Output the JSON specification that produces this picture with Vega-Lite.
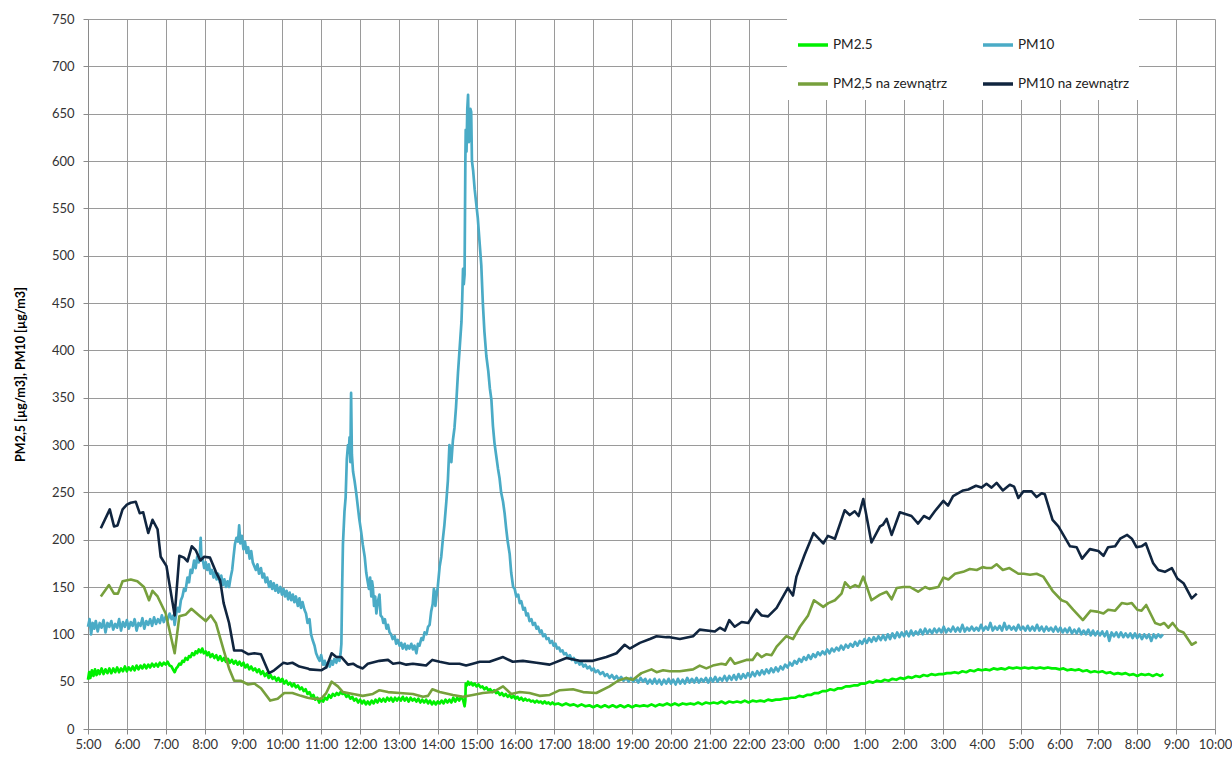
{
"$schema": "https://vega.github.io/schema/vega-lite/v6.json",
"autosize": {"type": "none"},
"width": 1127,
"height": 710,
"padding": {"left": 88, "top": 19, "right": 17, "bottom": 28},
"background": "white",
"config": {"view": {"stroke": null}, "axis": {"labelFont": "Lato", "labelFontSize": 13, "labelColor": "#333333", "gridColor": "#9a9a9a", "gridWidth": 1, "domainColor": "#8a8a8a", "tickColor": "#8a8a8a"}},
"datasets": {
"pm25": [
{"t":5.00,"v":52},{"t":5.03,"v":60},{"t":5.06,"v":54},{"t":5.10,"v":62},{"t":5.14,"v":56},{"t":5.18,"v":63},{"t":5.22,"v":57},{"t":5.26,"v":62},{"t":5.30,"v":58},{"t":5.35,"v":64},{"t":5.40,"v":58},{"t":5.45,"v":63},{"t":5.50,"v":59},{"t":5.55,"v":64},{"t":5.60,"v":59},{"t":5.65,"v":64},{"t":5.70,"v":60},{"t":5.75,"v":65},{"t":5.80,"v":60},{"t":5.85,"v":64},{"t":5.90,"v":61},{"t":5.95,"v":66},{"t":6.00,"v":61},{"t":6.05,"v":65},{"t":6.10,"v":62},{"t":6.15,"v":66},{"t":6.20,"v":62},{"t":6.25,"v":67},{"t":6.30,"v":63},{"t":6.35,"v":67},{"t":6.40,"v":64},{"t":6.45,"v":68},{"t":6.50,"v":64},{"t":6.55,"v":68},{"t":6.60,"v":65},{"t":6.65,"v":69},{"t":6.70,"v":66},{"t":6.75,"v":69},{"t":6.80,"v":66},{"t":6.85,"v":70},{"t":6.90,"v":67},{"t":6.95,"v":70},{"t":7.00,"v":68},{"t":7.05,"v":71},{"t":7.10,"v":67},{"t":7.15,"v":66},{"t":7.20,"v":62},{"t":7.23,"v":60},{"t":7.27,"v":64},{"t":7.31,"v":66},{"t":7.35,"v":69},{"t":7.39,"v":68},{"t":7.43,"v":72},{"t":7.47,"v":71},{"t":7.51,"v":75},{"t":7.56,"v":73},{"t":7.60,"v":77},{"t":7.64,"v":76},{"t":7.68,"v":80},{"t":7.73,"v":78},{"t":7.77,"v":82},{"t":7.81,"v":80},{"t":7.85,"v":84},{"t":7.90,"v":81},{"t":7.94,"v":85},{"t":7.98,"v":80},{"t":8.03,"v":82},{"t":8.07,"v":78},{"t":8.11,"v":81},{"t":8.15,"v":76},{"t":8.20,"v":79},{"t":8.25,"v":75},{"t":8.30,"v":78},{"t":8.35,"v":73},{"t":8.40,"v":77},{"t":8.45,"v":72},{"t":8.50,"v":75},{"t":8.55,"v":71},{"t":8.60,"v":74},{"t":8.65,"v":70},{"t":8.70,"v":73},{"t":8.75,"v":69},{"t":8.80,"v":72},{"t":8.85,"v":68},{"t":8.90,"v":71},{"t":8.95,"v":67},{"t":9.00,"v":70},{"t":9.05,"v":65},{"t":9.10,"v":68},{"t":9.15,"v":63},{"t":9.20,"v":66},{"t":9.25,"v":62},{"t":9.30,"v":64},{"t":9.35,"v":60},{"t":9.40,"v":63},{"t":9.45,"v":58},{"t":9.50,"v":61},{"t":9.55,"v":56},{"t":9.60,"v":59},{"t":9.65,"v":54},{"t":9.70,"v":57},{"t":9.75,"v":53},{"t":9.80,"v":55},{"t":9.85,"v":51},{"t":9.90,"v":54},{"t":9.95,"v":50},{"t":10.00,"v":53},{"t":10.05,"v":48},{"t":10.10,"v":51},{"t":10.15,"v":47},{"t":10.20,"v":49},{"t":10.25,"v":45},{"t":10.30,"v":48},{"t":10.35,"v":44},{"t":10.40,"v":46},{"t":10.45,"v":42},{"t":10.50,"v":44},{"t":10.55,"v":40},{"t":10.60,"v":42},{"t":10.65,"v":37},{"t":10.70,"v":39},{"t":10.75,"v":34},{"t":10.80,"v":36},{"t":10.85,"v":31},{"t":10.90,"v":33},{"t":10.95,"v":28},{"t":11.00,"v":32},{"t":11.05,"v":29},{"t":11.10,"v":33},{"t":11.15,"v":31},{"t":11.20,"v":36},{"t":11.25,"v":33},{"t":11.30,"v":37},{"t":11.35,"v":35},{"t":11.40,"v":38},{"t":11.45,"v":36},{"t":11.50,"v":39},{"t":11.55,"v":37},{"t":11.60,"v":38},{"t":11.65,"v":34},{"t":11.70,"v":36},{"t":11.75,"v":32},{"t":11.80,"v":34},{"t":11.85,"v":30},{"t":11.90,"v":32},{"t":11.95,"v":28},{"t":12.00,"v":31},{"t":12.05,"v":27},{"t":12.10,"v":30},{"t":12.15,"v":26},{"t":12.20,"v":29},{"t":12.25,"v":26},{"t":12.30,"v":30},{"t":12.35,"v":27},{"t":12.40,"v":31},{"t":12.45,"v":28},{"t":12.50,"v":32},{"t":12.55,"v":29},{"t":12.60,"v":32},{"t":12.65,"v":29},{"t":12.70,"v":33},{"t":12.75,"v":30},{"t":12.80,"v":33},{"t":12.85,"v":29},{"t":12.90,"v":33},{"t":12.95,"v":30},{"t":13.00,"v":33},{"t":13.05,"v":30},{"t":13.10,"v":34},{"t":13.15,"v":30},{"t":13.20,"v":33},{"t":13.25,"v":29},{"t":13.30,"v":33},{"t":13.35,"v":30},{"t":13.40,"v":32},{"t":13.45,"v":29},{"t":13.50,"v":32},{"t":13.55,"v":28},{"t":13.60,"v":31},{"t":13.65,"v":28},{"t":13.70,"v":31},{"t":13.75,"v":27},{"t":13.80,"v":30},{"t":13.85,"v":26},{"t":13.90,"v":29},{"t":13.95,"v":26},{"t":14.00,"v":29},{"t":14.05,"v":27},{"t":14.10,"v":30},{"t":14.15,"v":27},{"t":14.20,"v":31},{"t":14.25,"v":28},{"t":14.30,"v":31},{"t":14.35,"v":28},{"t":14.40,"v":33},{"t":14.45,"v":29},{"t":14.50,"v":33},{"t":14.55,"v":30},{"t":14.60,"v":34},{"t":14.65,"v":31},{"t":14.69,"v":24},{"t":14.71,"v":30},{"t":14.72,"v":48},{"t":14.75,"v":46},{"t":14.78,"v":50},{"t":14.82,"v":47},{"t":14.86,"v":49},{"t":14.90,"v":46},{"t":14.95,"v":48},{"t":15.00,"v":45},{"t":15.05,"v":47},{"t":15.10,"v":44},{"t":15.15,"v":45},{"t":15.20,"v":42},{"t":15.25,"v":44},{"t":15.30,"v":41},{"t":15.35,"v":42},{"t":15.40,"v":39},{"t":15.45,"v":41},{"t":15.50,"v":38},{"t":15.55,"v":39},{"t":15.60,"v":36},{"t":15.65,"v":38},{"t":15.70,"v":35},{"t":15.75,"v":37},{"t":15.80,"v":34},{"t":15.85,"v":36},{"t":15.90,"v":33},{"t":15.95,"v":35},{"t":16.00,"v":32},{"t":16.05,"v":34},{"t":16.10,"v":31},{"t":16.15,"v":33},{"t":16.20,"v":30},{"t":16.25,"v":32},{"t":16.30,"v":30},{"t":16.35,"v":31},{"t":16.40,"v":29},{"t":16.45,"v":30},{"t":16.50,"v":28},{"t":16.55,"v":30},{"t":16.60,"v":28},{"t":16.65,"v":29},{"t":16.70,"v":27},{"t":16.75,"v":29},{"t":16.80,"v":27},{"t":16.85,"v":28},{"t":16.90,"v":26},{"t":16.95,"v":28},{"t":17.00,"v":26},{"t":17.10,"v":27},{"t":17.20,"v":25},{"t":17.30,"v":27},{"t":17.40,"v":25},{"t":17.50,"v":26},{"t":17.60,"v":24},{"t":17.70,"v":26},{"t":17.80,"v":24},{"t":17.90,"v":25},{"t":18.00,"v":23},{"t":18.10,"v":25},{"t":18.20,"v":23},{"t":18.30,"v":25},{"t":18.40,"v":23},{"t":18.50,"v":25},{"t":18.60,"v":23},{"t":18.70,"v":25},{"t":18.80,"v":23},{"t":18.90,"v":25},{"t":19.00,"v":23},{"t":19.10,"v":25},{"t":19.20,"v":24},{"t":19.30,"v":25},{"t":19.40,"v":24},{"t":19.50,"v":26},{"t":19.60,"v":24},{"t":19.70,"v":26},{"t":19.80,"v":25},{"t":19.90,"v":27},{"t":20.00,"v":25},{"t":20.10,"v":27},{"t":20.20,"v":25},{"t":20.30,"v":27},{"t":20.40,"v":26},{"t":20.50,"v":27},{"t":20.60,"v":26},{"t":20.70,"v":28},{"t":20.80,"v":26},{"t":20.90,"v":28},{"t":21.00,"v":27},{"t":21.10,"v":28},{"t":21.20,"v":27},{"t":21.30,"v":29},{"t":21.40,"v":27},{"t":21.50,"v":29},{"t":21.60,"v":28},{"t":21.70,"v":29},{"t":21.80,"v":28},{"t":21.90,"v":30},{"t":22.00,"v":28},{"t":22.10,"v":30},{"t":22.20,"v":29},{"t":22.30,"v":30},{"t":22.40,"v":29},{"t":22.50,"v":31},{"t":22.60,"v":30},{"t":22.70,"v":31},{"t":22.80,"v":31},{"t":22.90,"v":32},{"t":23.00,"v":32},{"t":23.10,"v":33},{"t":23.20,"v":33},{"t":23.30,"v":35},{"t":23.40,"v":34},{"t":23.50,"v":36},{"t":23.60,"v":36},{"t":23.70,"v":38},{"t":23.80,"v":38},{"t":23.90,"v":40},{"t":24.00,"v":40},{"t":24.10,"v":42},{"t":24.20,"v":41},{"t":24.30,"v":43},{"t":24.40,"v":43},{"t":24.50,"v":45},{"t":24.60,"v":45},{"t":24.70,"v":46},{"t":24.80,"v":46},{"t":24.90,"v":48},{"t":25.00,"v":48},{"t":25.10,"v":50},{"t":25.20,"v":49},{"t":25.30,"v":51},{"t":25.40,"v":50},{"t":25.50,"v":52},{"t":25.60,"v":51},{"t":25.70,"v":53},{"t":25.80,"v":52},{"t":25.90,"v":54},{"t":26.00,"v":53},{"t":26.10,"v":55},{"t":26.20,"v":54},{"t":26.30,"v":56},{"t":26.40,"v":55},{"t":26.50,"v":57},{"t":26.60,"v":56},{"t":26.70,"v":58},{"t":26.80,"v":57},{"t":26.90,"v":58},{"t":27.00,"v":58},{"t":27.10,"v":59},{"t":27.20,"v":59},{"t":27.30,"v":60},{"t":27.40,"v":59},{"t":27.50,"v":61},{"t":27.60,"v":60},{"t":27.70,"v":62},{"t":27.80,"v":61},{"t":27.90,"v":63},{"t":28.00,"v":62},{"t":28.10,"v":63},{"t":28.20,"v":62},{"t":28.30,"v":64},{"t":28.40,"v":63},{"t":28.50,"v":64},{"t":28.60,"v":63},{"t":28.70,"v":65},{"t":28.80,"v":64},{"t":28.90,"v":65},{"t":29.00,"v":64},{"t":29.10,"v":65},{"t":29.20,"v":64},{"t":29.30,"v":65},{"t":29.40,"v":64},{"t":29.50,"v":65},{"t":29.60,"v":64},{"t":29.70,"v":65},{"t":29.80,"v":64},{"t":29.90,"v":64},{"t":30.00,"v":63},{"t":30.10,"v":64},{"t":30.20,"v":62},{"t":30.30,"v":63},{"t":30.40,"v":62},{"t":30.50,"v":63},{"t":30.60,"v":61},{"t":30.70,"v":62},{"t":30.80,"v":60},{"t":30.90,"v":61},{"t":31.00,"v":60},{"t":31.10,"v":61},{"t":31.20,"v":59},{"t":31.30,"v":60},{"t":31.40,"v":58},{"t":31.50,"v":59},{"t":31.60,"v":58},{"t":31.70,"v":59},{"t":31.80,"v":57},{"t":31.90,"v":58},{"t":32.00,"v":56},{"t":32.10,"v":58},{"t":32.20,"v":57},{"t":32.30,"v":58},{"t":32.40,"v":56},{"t":32.50,"v":58},{"t":32.60,"v":56},{"t":32.67,"v":58}
],
"pm10": [
{"t":5.00,"v":108},{"t":5.04,"v":116},{"t":5.08,"v":100},{"t":5.12,"v":112},{"t":5.16,"v":106},{"t":5.20,"v":114},{"t":5.25,"v":103},{"t":5.30,"v":112},{"t":5.35,"v":107},{"t":5.40,"v":115},{"t":5.45,"v":102},{"t":5.50,"v":112},{"t":5.55,"v":108},{"t":5.60,"v":114},{"t":5.65,"v":105},{"t":5.70,"v":111},{"t":5.75,"v":107},{"t":5.80,"v":116},{"t":5.85,"v":104},{"t":5.90,"v":113},{"t":5.95,"v":108},{"t":6.00,"v":115},{"t":6.05,"v":106},{"t":6.10,"v":113},{"t":6.15,"v":109},{"t":6.20,"v":116},{"t":6.25,"v":104},{"t":6.30,"v":112},{"t":6.35,"v":109},{"t":6.40,"v":117},{"t":6.45,"v":106},{"t":6.50,"v":114},{"t":6.55,"v":110},{"t":6.60,"v":116},{"t":6.65,"v":109},{"t":6.70,"v":118},{"t":6.75,"v":111},{"t":6.80,"v":116},{"t":6.85,"v":112},{"t":6.90,"v":120},{"t":6.95,"v":113},{"t":7.00,"v":119},{"t":7.05,"v":115},{"t":7.10,"v":122},{"t":7.15,"v":116},{"t":7.20,"v":120},{"t":7.23,"v":110},{"t":7.27,"v":122},{"t":7.31,"v":128},{"t":7.35,"v":124},{"t":7.39,"v":136},{"t":7.43,"v":140},{"t":7.47,"v":148},{"t":7.51,"v":146},{"t":7.56,"v":160},{"t":7.60,"v":155},{"t":7.64,"v":168},{"t":7.68,"v":165},{"t":7.73,"v":178},{"t":7.77,"v":170},{"t":7.81,"v":182},{"t":7.85,"v":176},{"t":7.88,"v":186},{"t":7.90,"v":202},{"t":7.92,"v":178},{"t":7.95,"v":180},{"t":7.99,"v":170},{"t":8.03,"v":176},{"t":8.07,"v":168},{"t":8.11,"v":174},{"t":8.15,"v":164},{"t":8.19,"v":168},{"t":8.23,"v":160},{"t":8.27,"v":166},{"t":8.31,"v":158},{"t":8.35,"v":164},{"t":8.39,"v":155},{"t":8.43,"v":162},{"t":8.47,"v":152},{"t":8.51,"v":158},{"t":8.55,"v":150},{"t":8.59,"v":156},{"t":8.63,"v":150},{"t":8.67,"v":160},{"t":8.71,"v":168},{"t":8.74,"v":180},{"t":8.78,"v":195},{"t":8.82,"v":202},{"t":8.86,"v":198},{"t":8.89,"v":215},{"t":8.92,"v":196},{"t":8.96,"v":204},{"t":9.00,"v":190},{"t":9.04,"v":198},{"t":9.08,"v":186},{"t":9.12,"v":192},{"t":9.16,"v":180},{"t":9.20,"v":188},{"t":9.24,"v":176},{"t":9.28,"v":172},{"t":9.32,"v":168},{"t":9.36,"v":174},{"t":9.40,"v":164},{"t":9.45,"v":170},{"t":9.49,"v":160},{"t":9.53,"v":164},{"t":9.57,"v":155},{"t":9.61,"v":160},{"t":9.66,"v":150},{"t":9.70,"v":156},{"t":9.74,"v":148},{"t":9.78,"v":154},{"t":9.82,"v":146},{"t":9.86,"v":152},{"t":9.90,"v":144},{"t":9.95,"v":150},{"t":9.99,"v":142},{"t":10.03,"v":148},{"t":10.07,"v":140},{"t":10.11,"v":146},{"t":10.15,"v":137},{"t":10.19,"v":144},{"t":10.23,"v":136},{"t":10.27,"v":142},{"t":10.31,"v":134},{"t":10.35,"v":140},{"t":10.40,"v":130},{"t":10.44,"v":138},{"t":10.48,"v":128},{"t":10.52,"v":134},{"t":10.57,"v":126},{"t":10.61,"v":122},{"t":10.65,"v":112},{"t":10.70,"v":116},{"t":10.74,"v":100},{"t":10.78,"v":94},{"t":10.83,"v":88},{"t":10.87,"v":80},{"t":10.91,"v":76},{"t":10.96,"v":72},{"t":11.00,"v":78},{"t":11.05,"v":68},{"t":11.09,"v":72},{"t":11.13,"v":65},{"t":11.17,"v":70},{"t":11.22,"v":66},{"t":11.26,"v":72},{"t":11.30,"v":68},{"t":11.34,"v":74},{"t":11.39,"v":70},{"t":11.43,"v":76},{"t":11.47,"v":72},{"t":11.50,"v":80},{"t":11.52,"v":90},{"t":11.54,"v":150},{"t":11.56,"v":195},{"t":11.60,"v":230},{"t":11.63,"v":245},{"t":11.66,"v":285},{"t":11.69,"v":300},{"t":11.71,"v":292},{"t":11.73,"v":308},{"t":11.75,"v":282},{"t":11.77,"v":355},{"t":11.79,"v":290},{"t":11.82,"v":272},{"t":11.86,"v":262},{"t":11.90,"v":250},{"t":11.94,"v":236},{"t":11.98,"v":222},{"t":12.03,"v":208},{"t":12.07,"v":195},{"t":12.12,"v":182},{"t":12.16,"v":165},{"t":12.20,"v":155},{"t":12.23,"v":148},{"t":12.26,"v":160},{"t":12.29,"v":140},{"t":12.31,"v":156},{"t":12.33,"v":150},{"t":12.36,"v":130},{"t":12.39,"v":140},{"t":12.42,"v":122},{"t":12.46,"v":135},{"t":12.50,"v":142},{"t":12.53,"v":120},{"t":12.57,"v":118},{"t":12.60,"v":112},{"t":12.64,"v":116},{"t":12.68,"v":106},{"t":12.72,"v":110},{"t":12.76,"v":102},{"t":12.80,"v":100},{"t":12.84,"v":95},{"t":12.89,"v":98},{"t":12.93,"v":90},{"t":12.97,"v":94},{"t":13.02,"v":88},{"t":13.06,"v":91},{"t":13.10,"v":85},{"t":13.15,"v":90},{"t":13.19,"v":84},{"t":13.23,"v":88},{"t":13.27,"v":85},{"t":13.32,"v":90},{"t":13.36,"v":84},{"t":13.40,"v":88},{"t":13.45,"v":80},{"t":13.49,"v":90},{"t":13.53,"v":88},{"t":13.58,"v":96},{"t":13.62,"v":94},{"t":13.66,"v":102},{"t":13.71,"v":100},{"t":13.75,"v":108},{"t":13.79,"v":110},{"t":13.83,"v":124},{"t":13.87,"v":132},{"t":13.90,"v":148},{"t":13.92,"v":145},{"t":13.94,"v":130},{"t":13.96,"v":138},{"t":14.00,"v":150},{"t":14.05,"v":172},{"t":14.09,"v":182},{"t":14.13,"v":200},{"t":14.17,"v":215},{"t":14.22,"v":240},{"t":14.26,"v":262},{"t":14.30,"v":300},{"t":14.33,"v":288},{"t":14.35,"v":282},{"t":14.39,"v":305},{"t":14.43,"v":318},{"t":14.47,"v":340},{"t":14.52,"v":376},{"t":14.56,"v":400},{"t":14.61,"v":430},{"t":14.63,"v":455},{"t":14.65,"v":486},{"t":14.67,"v":470},{"t":14.69,"v":480},{"t":14.71,"v":600},{"t":14.72,"v":633},{"t":14.74,"v":610},{"t":14.76,"v":655},{"t":14.78,"v":670},{"t":14.80,"v":620},{"t":14.82,"v":628},{"t":14.84,"v":655},{"t":14.86,"v":652},{"t":14.88,"v":600},{"t":14.91,"v":590},{"t":14.95,"v":570},{"t":14.99,"v":555},{"t":15.03,"v":540},{"t":15.08,"v":512},{"t":15.12,"v":490},{"t":15.16,"v":450},{"t":15.20,"v":420},{"t":15.25,"v":394},{"t":15.30,"v":378},{"t":15.34,"v":360},{"t":15.38,"v":348},{"t":15.42,"v":320},{"t":15.46,"v":302},{"t":15.50,"v":290},{"t":15.55,"v":275},{"t":15.59,"v":265},{"t":15.63,"v":250},{"t":15.68,"v":240},{"t":15.72,"v":228},{"t":15.76,"v":212},{"t":15.80,"v":198},{"t":15.85,"v":185},{"t":15.89,"v":165},{"t":15.94,"v":150},{"t":15.98,"v":148},{"t":16.02,"v":140},{"t":16.07,"v":142},{"t":16.11,"v":133},{"t":16.15,"v":135},{"t":16.20,"v":126},{"t":16.24,"v":128},{"t":16.28,"v":120},{"t":16.32,"v":122},{"t":16.36,"v":114},{"t":16.41,"v":116},{"t":16.45,"v":110},{"t":16.50,"v":112},{"t":16.54,"v":106},{"t":16.58,"v":108},{"t":16.63,"v":102},{"t":16.67,"v":104},{"t":16.71,"v":98},{"t":16.76,"v":100},{"t":16.80,"v":95},{"t":16.85,"v":96},{"t":16.89,"v":91},{"t":16.94,"v":93},{"t":16.98,"v":88},{"t":17.03,"v":90},{"t":17.07,"v":85},{"t":17.12,"v":86},{"t":17.16,"v":82},{"t":17.21,"v":83},{"t":17.25,"v":79},{"t":17.30,"v":80},{"t":17.35,"v":76},{"t":17.40,"v":78},{"t":17.45,"v":73},{"t":17.50,"v":75},{"t":17.55,"v":70},{"t":17.60,"v":72},{"t":17.65,"v":68},{"t":17.70,"v":70},{"t":17.75,"v":66},{"t":17.80,"v":68},{"t":17.85,"v":64},{"t":17.91,"v":66},{"t":17.96,"v":62},{"t":18.01,"v":64},{"t":18.06,"v":60},{"t":18.12,"v":62},{"t":18.18,"v":58},{"t":18.25,"v":60},{"t":18.30,"v":56},{"t":18.36,"v":58},{"t":18.42,"v":54},{"t":18.48,"v":57},{"t":18.54,"v":53},{"t":18.60,"v":56},{"t":18.66,"v":52},{"t":18.72,"v":55},{"t":18.78,"v":51},{"t":18.85,"v":54},{"t":18.91,"v":50},{"t":18.97,"v":54},{"t":19.03,"v":50},{"t":19.10,"v":53},{"t":19.16,"v":49},{"t":19.22,"v":54},{"t":19.28,"v":50},{"t":19.34,"v":53},{"t":19.40,"v":48},{"t":19.46,"v":52},{"t":19.52,"v":48},{"t":19.58,"v":53},{"t":19.64,"v":48},{"t":19.70,"v":52},{"t":19.76,"v":47},{"t":19.82,"v":52},{"t":19.88,"v":48},{"t":19.94,"v":53},{"t":20.00,"v":48},{"t":20.06,"v":52},{"t":20.12,"v":47},{"t":20.18,"v":53},{"t":20.24,"v":48},{"t":20.30,"v":52},{"t":20.36,"v":48},{"t":20.42,"v":54},{"t":20.48,"v":49},{"t":20.54,"v":53},{"t":20.60,"v":49},{"t":20.66,"v":54},{"t":20.72,"v":49},{"t":20.78,"v":53},{"t":20.84,"v":50},{"t":20.90,"v":54},{"t":20.96,"v":49},{"t":21.02,"v":54},{"t":21.08,"v":50},{"t":21.14,"v":55},{"t":21.20,"v":50},{"t":21.26,"v":54},{"t":21.32,"v":51},{"t":21.38,"v":56},{"t":21.44,"v":51},{"t":21.50,"v":56},{"t":21.56,"v":52},{"t":21.62,"v":57},{"t":21.68,"v":52},{"t":21.74,"v":58},{"t":21.80,"v":53},{"t":21.86,"v":58},{"t":21.92,"v":54},{"t":21.98,"v":59},{"t":22.04,"v":55},{"t":22.10,"v":60},{"t":22.16,"v":56},{"t":22.22,"v":61},{"t":22.28,"v":57},{"t":22.34,"v":62},{"t":22.40,"v":58},{"t":22.46,"v":63},{"t":22.52,"v":59},{"t":22.58,"v":64},{"t":22.64,"v":60},{"t":22.70,"v":65},{"t":22.76,"v":61},{"t":22.82,"v":66},{"t":22.88,"v":63},{"t":22.94,"v":68},{"t":23.00,"v":65},{"t":23.06,"v":70},{"t":23.12,"v":67},{"t":23.18,"v":72},{"t":23.24,"v":69},{"t":23.30,"v":74},{"t":23.36,"v":71},{"t":23.42,"v":76},{"t":23.48,"v":73},{"t":23.54,"v":78},{"t":23.60,"v":74},{"t":23.66,"v":79},{"t":23.72,"v":76},{"t":23.78,"v":81},{"t":23.84,"v":78},{"t":23.90,"v":82},{"t":23.96,"v":79},{"t":24.02,"v":84},{"t":24.08,"v":80},{"t":24.14,"v":85},{"t":24.20,"v":82},{"t":24.26,"v":86},{"t":24.32,"v":83},{"t":24.38,"v":88},{"t":24.44,"v":84},{"t":24.50,"v":89},{"t":24.56,"v":86},{"t":24.62,"v":90},{"t":24.68,"v":87},{"t":24.74,"v":92},{"t":24.80,"v":88},{"t":24.86,"v":93},{"t":24.92,"v":90},{"t":24.98,"v":95},{"t":25.04,"v":91},{"t":25.10,"v":96},{"t":25.16,"v":92},{"t":25.22,"v":97},{"t":25.28,"v":93},{"t":25.34,"v":98},{"t":25.40,"v":94},{"t":25.46,"v":99},{"t":25.52,"v":94},{"t":25.58,"v":100},{"t":25.64,"v":95},{"t":25.70,"v":101},{"t":25.76,"v":96},{"t":25.82,"v":102},{"t":25.88,"v":97},{"t":25.94,"v":102},{"t":26.00,"v":98},{"t":26.06,"v":103},{"t":26.12,"v":98},{"t":26.18,"v":104},{"t":26.24,"v":99},{"t":26.30,"v":103},{"t":26.36,"v":100},{"t":26.42,"v":105},{"t":26.48,"v":100},{"t":26.54,"v":106},{"t":26.60,"v":101},{"t":26.66,"v":105},{"t":26.72,"v":101},{"t":26.78,"v":106},{"t":26.84,"v":102},{"t":26.90,"v":106},{"t":26.96,"v":102},{"t":27.02,"v":108},{"t":27.08,"v":102},{"t":27.14,"v":106},{"t":27.20,"v":103},{"t":27.26,"v":108},{"t":27.32,"v":103},{"t":27.38,"v":107},{"t":27.44,"v":103},{"t":27.50,"v":110},{"t":27.56,"v":103},{"t":27.62,"v":107},{"t":27.68,"v":104},{"t":27.74,"v":108},{"t":27.80,"v":104},{"t":27.86,"v":107},{"t":27.92,"v":104},{"t":27.98,"v":110},{"t":28.04,"v":104},{"t":28.10,"v":108},{"t":28.16,"v":105},{"t":28.22,"v":112},{"t":28.28,"v":104},{"t":28.34,"v":108},{"t":28.40,"v":105},{"t":28.46,"v":109},{"t":28.52,"v":104},{"t":28.58,"v":112},{"t":28.64,"v":105},{"t":28.70,"v":109},{"t":28.76,"v":105},{"t":28.82,"v":108},{"t":28.88,"v":104},{"t":28.94,"v":110},{"t":29.00,"v":105},{"t":29.06,"v":108},{"t":29.12,"v":104},{"t":29.18,"v":109},{"t":29.24,"v":104},{"t":29.30,"v":108},{"t":29.36,"v":104},{"t":29.42,"v":110},{"t":29.48,"v":104},{"t":29.54,"v":108},{"t":29.60,"v":103},{"t":29.66,"v":108},{"t":29.72,"v":104},{"t":29.78,"v":107},{"t":29.84,"v":103},{"t":29.90,"v":108},{"t":29.96,"v":103},{"t":30.02,"v":107},{"t":30.08,"v":102},{"t":30.14,"v":106},{"t":30.20,"v":102},{"t":30.26,"v":107},{"t":30.32,"v":101},{"t":30.38,"v":105},{"t":30.44,"v":101},{"t":30.50,"v":106},{"t":30.56,"v":100},{"t":30.62,"v":104},{"t":30.68,"v":100},{"t":30.74,"v":105},{"t":30.80,"v":99},{"t":30.86,"v":104},{"t":30.92,"v":99},{"t":30.98,"v":103},{"t":31.04,"v":99},{"t":31.10,"v":103},{"t":31.16,"v":98},{"t":31.22,"v":103},{"t":31.28,"v":93},{"t":31.34,"v":102},{"t":31.40,"v":98},{"t":31.46,"v":102},{"t":31.52,"v":97},{"t":31.58,"v":102},{"t":31.64,"v":97},{"t":31.70,"v":101},{"t":31.76,"v":97},{"t":31.82,"v":101},{"t":31.88,"v":96},{"t":31.94,"v":101},{"t":32.00,"v":96},{"t":32.06,"v":100},{"t":32.12,"v":95},{"t":32.18,"v":100},{"t":32.24,"v":96},{"t":32.30,"v":100},{"t":32.36,"v":93},{"t":32.42,"v":100},{"t":32.48,"v":96},{"t":32.54,"v":100},{"t":32.60,"v":97},{"t":32.66,"v":100}
],
"pm25o": [
{"t":5.33,"v":140},{"t":5.54,"v":152},{"t":5.67,"v":143},{"t":5.77,"v":143},{"t":5.89,"v":156},{"t":6.10,"v":158},{"t":6.27,"v":156},{"t":6.44,"v":150},{"t":6.57,"v":136},{"t":6.66,"v":146},{"t":6.79,"v":140},{"t":7.00,"v":122},{"t":7.23,"v":80},{"t":7.35,"v":119},{"t":7.52,"v":121},{"t":7.66,"v":127},{"t":7.86,"v":120},{"t":8.03,"v":114},{"t":8.16,"v":120},{"t":8.29,"v":112},{"t":8.50,"v":82},{"t":8.63,"v":64},{"t":8.76,"v":51},{"t":8.93,"v":51},{"t":9.12,"v":47},{"t":9.28,"v":48},{"t":9.45,"v":43},{"t":9.69,"v":30},{"t":9.88,"v":32},{"t":10.05,"v":38},{"t":10.26,"v":38},{"t":10.48,"v":35},{"t":10.65,"v":33},{"t":10.79,"v":32},{"t":11.00,"v":32},{"t":11.13,"v":38},{"t":11.27,"v":50},{"t":11.43,"v":45},{"t":11.56,"v":39},{"t":11.82,"v":37},{"t":12.07,"v":35},{"t":12.33,"v":37},{"t":12.50,"v":41},{"t":12.72,"v":39},{"t":13.02,"v":38},{"t":13.36,"v":37},{"t":13.62,"v":34},{"t":13.75,"v":35},{"t":13.86,"v":42},{"t":14.05,"v":39},{"t":14.39,"v":36},{"t":14.65,"v":34},{"t":14.90,"v":36},{"t":15.16,"v":38},{"t":15.42,"v":39},{"t":15.68,"v":45},{"t":15.89,"v":37},{"t":16.11,"v":39},{"t":16.36,"v":38},{"t":16.62,"v":35},{"t":16.88,"v":36},{"t":17.14,"v":41},{"t":17.48,"v":42},{"t":17.74,"v":39},{"t":18.08,"v":38},{"t":18.42,"v":45},{"t":18.64,"v":51},{"t":18.85,"v":54},{"t":19.02,"v":52},{"t":19.24,"v":59},{"t":19.50,"v":63},{"t":19.63,"v":60},{"t":19.80,"v":62},{"t":19.97,"v":61},{"t":20.23,"v":61},{"t":20.57,"v":63},{"t":20.74,"v":67},{"t":20.91,"v":64},{"t":21.08,"v":67},{"t":21.30,"v":69},{"t":21.41,"v":68},{"t":21.53,"v":75},{"t":21.64,"v":69},{"t":21.94,"v":73},{"t":22.10,"v":73},{"t":22.22,"v":80},{"t":22.33,"v":76},{"t":22.46,"v":79},{"t":22.59,"v":78},{"t":22.72,"v":87},{"t":22.97,"v":98},{"t":23.14,"v":95},{"t":23.32,"v":108},{"t":23.53,"v":120},{"t":23.68,"v":136},{"t":23.92,"v":129},{"t":24.05,"v":133},{"t":24.22,"v":136},{"t":24.39,"v":143},{"t":24.48,"v":155},{"t":24.61,"v":149},{"t":24.74,"v":152},{"t":24.84,"v":150},{"t":24.95,"v":161},{"t":25.16,"v":136},{"t":25.38,"v":142},{"t":25.55,"v":145},{"t":25.68,"v":137},{"t":25.81,"v":149},{"t":25.98,"v":150},{"t":26.15,"v":150},{"t":26.36,"v":145},{"t":26.54,"v":150},{"t":26.65,"v":148},{"t":26.88,"v":150},{"t":27.01,"v":160},{"t":27.14,"v":158},{"t":27.31,"v":164},{"t":27.52,"v":166},{"t":27.69,"v":169},{"t":27.87,"v":168},{"t":28.02,"v":171},{"t":28.12,"v":170},{"t":28.25,"v":170},{"t":28.38,"v":174},{"t":28.54,"v":168},{"t":28.71,"v":170},{"t":28.94,"v":164},{"t":29.08,"v":164},{"t":29.24,"v":163},{"t":29.41,"v":164},{"t":29.58,"v":161},{"t":29.82,"v":146},{"t":30.05,"v":136},{"t":30.18,"v":134},{"t":30.35,"v":126},{"t":30.60,"v":115},{"t":30.80,"v":125},{"t":30.96,"v":124},{"t":31.13,"v":122},{"t":31.25,"v":126},{"t":31.43,"v":125},{"t":31.60,"v":133},{"t":31.74,"v":132},{"t":31.86,"v":133},{"t":32.00,"v":126},{"t":32.11,"v":125},{"t":32.23,"v":131},{"t":32.46,"v":112},{"t":32.59,"v":110},{"t":32.69,"v":112},{"t":32.80,"v":107},{"t":32.91,"v":112},{"t":33.06,"v":104},{"t":33.19,"v":102},{"t":33.40,"v":89},{"t":33.53,"v":92}
],
"pm10o": [
{"t":5.33,"v":212},{"t":5.56,"v":232},{"t":5.67,"v":214},{"t":5.76,"v":215},{"t":5.89,"v":232},{"t":6.00,"v":237},{"t":6.10,"v":239},{"t":6.23,"v":240},{"t":6.33,"v":228},{"t":6.42,"v":229},{"t":6.55,"v":207},{"t":6.66,"v":221},{"t":6.79,"v":211},{"t":6.87,"v":182},{"t":7.02,"v":172},{"t":7.23,"v":120},{"t":7.35,"v":183},{"t":7.47,"v":181},{"t":7.56,"v":177},{"t":7.67,"v":193},{"t":7.77,"v":189},{"t":7.89,"v":178},{"t":7.99,"v":182},{"t":8.14,"v":181},{"t":8.29,"v":166},{"t":8.40,"v":157},{"t":8.49,"v":133},{"t":8.63,"v":112},{"t":8.76,"v":83},{"t":8.95,"v":83},{"t":9.12,"v":79},{"t":9.28,"v":80},{"t":9.45,"v":79},{"t":9.66,"v":59},{"t":9.79,"v":62},{"t":10.03,"v":70},{"t":10.13,"v":69},{"t":10.26,"v":70},{"t":10.44,"v":66},{"t":10.65,"v":64},{"t":10.70,"v":63},{"t":11.00,"v":62},{"t":11.13,"v":65},{"t":11.27,"v":80},{"t":11.39,"v":76},{"t":11.52,"v":76},{"t":11.69,"v":68},{"t":11.82,"v":69},{"t":11.94,"v":66},{"t":12.07,"v":64},{"t":12.20,"v":69},{"t":12.50,"v":72},{"t":12.72,"v":73},{"t":12.85,"v":69},{"t":13.02,"v":70},{"t":13.19,"v":68},{"t":13.36,"v":69},{"t":13.53,"v":68},{"t":13.70,"v":67},{"t":13.86,"v":73},{"t":14.05,"v":71},{"t":14.30,"v":69},{"t":14.56,"v":69},{"t":14.73,"v":67},{"t":14.90,"v":69},{"t":15.08,"v":71},{"t":15.33,"v":71},{"t":15.68,"v":76},{"t":15.93,"v":71},{"t":16.19,"v":72},{"t":16.54,"v":70},{"t":16.88,"v":68},{"t":17.31,"v":75},{"t":17.65,"v":72},{"t":17.99,"v":72},{"t":18.34,"v":76},{"t":18.60,"v":80},{"t":18.81,"v":89},{"t":18.94,"v":85},{"t":19.20,"v":91},{"t":19.46,"v":95},{"t":19.63,"v":98},{"t":19.88,"v":97},{"t":19.97,"v":97},{"t":20.23,"v":95},{"t":20.57,"v":98},{"t":20.74,"v":105},{"t":21.13,"v":103},{"t":21.26,"v":107},{"t":21.39,"v":104},{"t":21.50,"v":115},{"t":21.64,"v":108},{"t":21.82,"v":113},{"t":21.99,"v":112},{"t":22.20,"v":126},{"t":22.33,"v":120},{"t":22.50,"v":119},{"t":22.72,"v":128},{"t":23.01,"v":149},{"t":23.14,"v":141},{"t":23.23,"v":161},{"t":23.44,"v":184},{"t":23.67,"v":207},{"t":23.92,"v":196},{"t":24.04,"v":204},{"t":24.22,"v":201},{"t":24.47,"v":231},{"t":24.60,"v":226},{"t":24.73,"v":230},{"t":24.83,"v":225},{"t":24.95,"v":243},{"t":25.16,"v":197},{"t":25.38,"v":214},{"t":25.46,"v":216},{"t":25.55,"v":222},{"t":25.68,"v":205},{"t":25.89,"v":229},{"t":26.19,"v":225},{"t":26.36,"v":217},{"t":26.51,"v":225},{"t":26.65,"v":222},{"t":26.79,"v":230},{"t":27.01,"v":241},{"t":27.13,"v":236},{"t":27.26,"v":246},{"t":27.52,"v":252},{"t":27.65,"v":253},{"t":27.85,"v":257},{"t":27.99,"v":255},{"t":28.12,"v":259},{"t":28.25,"v":255},{"t":28.38,"v":260},{"t":28.54,"v":252},{"t":28.72,"v":258},{"t":28.83,"v":256},{"t":28.94,"v":244},{"t":29.07,"v":251},{"t":29.28,"v":251},{"t":29.41,"v":245},{"t":29.54,"v":249},{"t":29.62,"v":248},{"t":29.82,"v":221},{"t":29.97,"v":214},{"t":30.27,"v":193},{"t":30.44,"v":192},{"t":30.58,"v":180},{"t":30.78,"v":190},{"t":31.00,"v":188},{"t":31.13,"v":183},{"t":31.25,"v":192},{"t":31.43,"v":193},{"t":31.56,"v":201},{"t":31.74,"v":205},{"t":31.86,"v":201},{"t":31.98,"v":192},{"t":32.11,"v":193},{"t":32.22,"v":196},{"t":32.41,"v":175},{"t":32.54,"v":168},{"t":32.71,"v":166},{"t":32.89,"v":170},{"t":33.03,"v":159},{"t":33.19,"v":154},{"t":33.40,"v":138},{"t":33.53,"v":143}
]
},
"encoding": {
"x": {"field": "t", "type": "quantitative", "scale": {"domain": [5, 34], "nice": false, "zero": false},
"axis": {"title": null, "values": [5,6,7,8,9,10,11,12,13,14,15,16,17,18,19,20,21,22,23,24,25,26,27,28,29,30,31,32,33,34], "labelExpr": "(datum.value % 24) + ':00'", "grid": true, "tickSize": 5, "labelPadding": 4, "labelOverlap": false, "labelFlush": false}},
"y": {"field": "v", "type": "quantitative", "scale": {"domain": [0, 750], "nice": false},
"axis": {"title": "PM2,5 [µg/m3], PM10 [µg/m3]", "titleFont": "Lato", "titleFontSize": 12.5, "titleFontWeight": "bold", "titleColor": "#000000", "titlePadding": 24, "values": [0,50,100,150,200,250,300,350,400,450,500,550,600,650,700,750], "grid": true, "tickSize": 5, "labelPadding": 9}}
},
"layer": [
{"data": {"name": "pm25"}, "mark": {"type": "line", "strokeWidth": 2.7, "strokeJoin": "round"},
"encoding": {"color": {"datum": "PM2.5", "type": "nominal",
"scale": {"domain": ["PM2.5", "PM2,5 na zewnątrz", "PM10", "PM10 na zewnątrz"], "range": ["#00f000", "#77a03c", "#4aabc6", "#10253f"]},
"legend": {"title": null, "orient": "none", "legendX": 699, "legendY": 0, "columns": 2, "symbolType": "stroke", "symbolSize": 900, "symbolStrokeWidth": 3.5, "labelFont": "Lato", "labelFontSize": 13.5, "labelColor": "#222222", "labelOffset": 3, "fillColor": "white", "padding": 9, "rowPadding": 15, "columnPadding": 28}}}},
{"data": {"name": "pm10"}, "mark": {"type": "line", "strokeWidth": 2.7, "strokeJoin": "round"},
"encoding": {"color": {"datum": "PM10", "type": "nominal"}}},
{"data": {"name": "pm25o"}, "mark": {"type": "line", "strokeWidth": 2.6, "strokeJoin": "round"},
"encoding": {"color": {"datum": "PM2,5 na zewnątrz", "type": "nominal"}}},
{"data": {"name": "pm10o"}, "mark": {"type": "line", "strokeWidth": 2.6, "strokeJoin": "round"},
"encoding": {"color": {"datum": "PM10 na zewnątrz", "type": "nominal"}}}
]
}
